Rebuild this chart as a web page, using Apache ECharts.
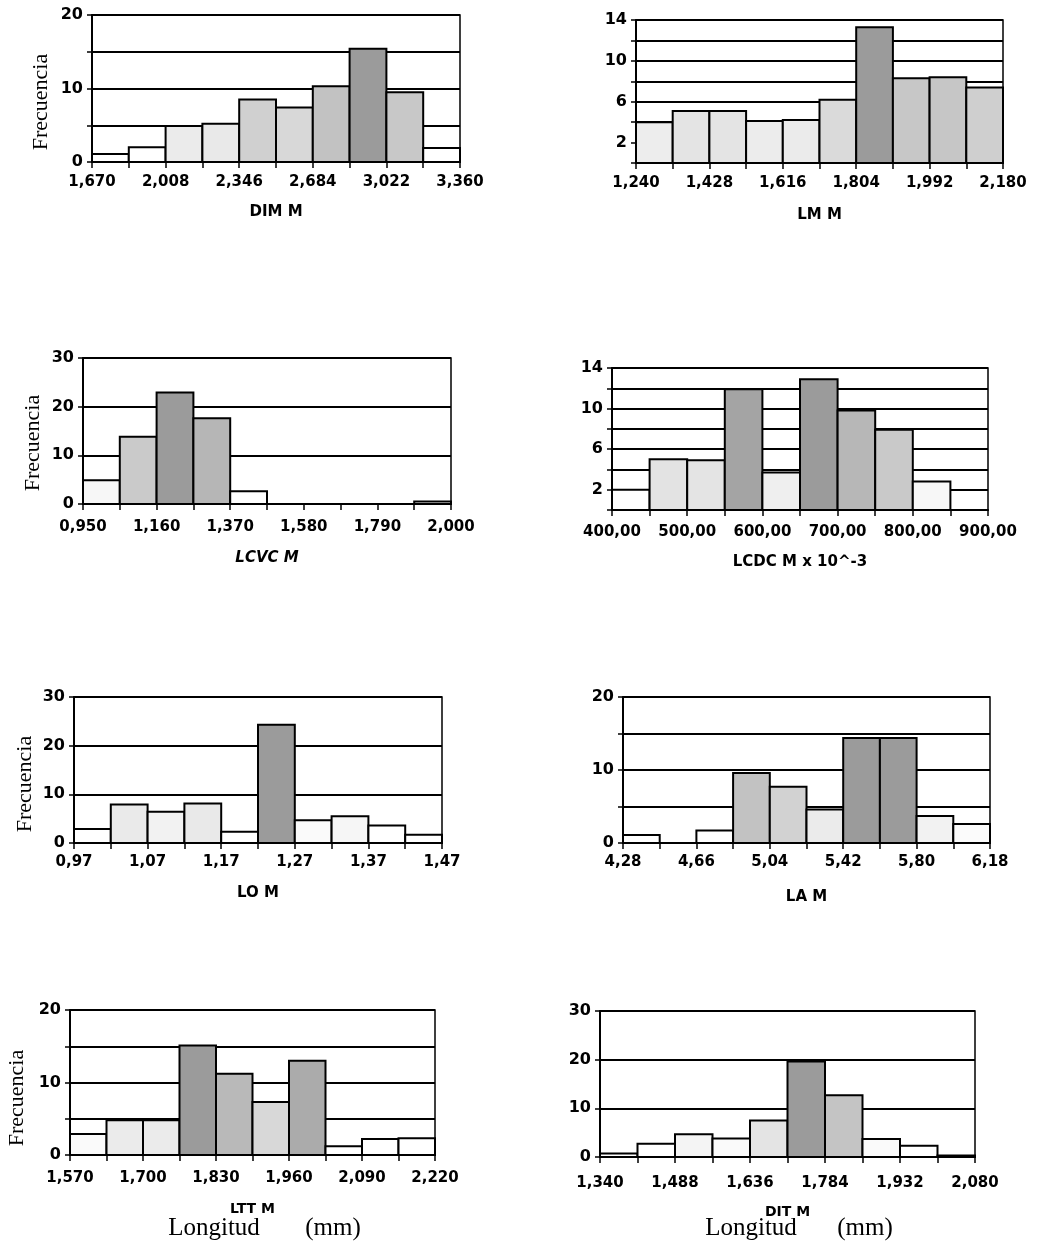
<!DOCTYPE html>
<html>
<head>
<meta charset="utf-8">
<script src="https://cdn.jsdelivr.net/npm/echarts@6/dist/echarts.min.js"></script>
<style>
html,body{margin:0;padding:0;background:#fff;}
#c{width:1043px;height:1247px;}
</style>
</head>
<body>
<div id="c"></div>
<script>
// ---- data (frequency per bin, 10 bins per histogram) ----
const dimVals  = [1.1, 2.0, 4.9, 5.2, 8.5, 7.4, 10.3, 15.4, 9.5, 1.9];
const dimTicks = ['1,670','2,008','2,346','2,684','3,022','3,360'];
const lmVals   = [4.0, 5.1, 5.1, 4.1, 4.2, 6.2, 13.3, 8.3, 8.4, 7.4];
const lmTicks  = ['1,240','1,428','1,616','1,804','1,992','2,180'];
const lcvcVals = [4.9, 13.8, 22.9, 17.6, 2.6, 0, 0, 0, 0, 0.5];
const lcvcTicks= ['0,950','1,160','1,370','1,580','1,790','2,000'];
const lcdcVals = [2.0, 5.0, 4.9, 11.9, 3.7, 12.9, 9.8, 7.9, 2.8, 0];
const lcdcTicks= ['400,00','500,00','600,00','700,00','800,00','900,00'];
const loVals   = [2.9, 7.9, 6.4, 8.1, 2.3, 24.3, 4.7, 5.5, 3.6, 1.7];
const loTicks  = ['0,97','1,07','1,17','1,27','1,37','1,47'];
const laVals   = [1.1, 0, 1.7, 9.6, 7.7, 4.6, 14.4, 14.4, 3.7, 2.6];
const laTicks  = ['4,28','4,66','5,04','5,42','5,80','6,18'];
const lttVals  = [2.9, 4.8, 4.8, 15.1, 11.2, 7.3, 13.0, 1.2, 2.2, 2.3];
const lttTicks = ['1,570','1,700','1,830','1,960','2,090','2,220'];
const ditVals  = [0.7, 2.7, 4.7, 3.8, 7.5, 19.6, 12.7, 3.7, 2.3, 0.3];
const ditTicks = ['1,340','1,488','1,636','1,784','1,932','2,080'];

const names = ['DIM M','LM M','LCVC M','LCDC M x 10^-3','LO M','LA M','LTT M','DIT M'];
const yLabel = 'Frecuencia';
const bottomLabel = ['Longitud', '(mm)'];

// ---- panel layout ----
const panels = [
  {vals: dimVals,  ticks: dimTicks,  ymax: 20, yint: 5, ylab: v => v % 10 === 0, box: [92, 15, 368, 147],  lm: 13, ng: 43},
  {vals: lmVals,   ticks: lmTicks,   ymax: 14, yint: 2, ylab: v => v % 4 === 2,  box: [636, 20, 367, 143], lm: 13, ng: 45},
  {vals: lcvcVals, ticks: lcvcTicks, ymax: 30, yint: 10, ylab: v => true,       box: [83, 358, 368, 146], lm: 16, ng: 47, italic: true},
  {vals: lcdcVals, ticks: lcdcTicks, ymax: 14, yint: 2, ylab: v => v % 4 === 2,  box: [612, 368, 376, 142], lm: 15, ng: 45},
  {vals: loVals,   ticks: loTicks,   ymax: 30, yint: 10, ylab: v => true,       box: [74, 697, 368, 146], lm: 12, ng: 43},
  {vals: laVals,   ticks: laTicks,   ymax: 20, yint: 5, ylab: v => v % 10 === 0, box: [623, 697, 367, 146], lm: 12, ng: 47},
  {vals: lttVals,  ticks: lttTicks,  ymax: 20, yint: 5, ylab: v => v % 10 === 0, box: [70, 1010, 365, 145], lm: 16, ng: 47, small: true},
  {vals: ditVals,  ticks: ditTicks,  ymax: 30, yint: 10, ylab: v => true,       box: [600, 1011, 375, 146], lm: 19, ng: 48, small: true}
];

function shade(v, maxV) {
  const t = Math.max(0, (v / maxV - 0.15) / 0.85);
  const L = Math.round(255 - 100 * t);
  return 'rgb(' + L + ',' + L + ',' + L + ')';
}

const grid = [], xAxis = [], yAxis = [], series = [];
panels.forEach((p, k) => {
  const maxV = Math.max.apply(null, p.vals);
  grid.push({left: p.box[0], top: p.box[1], width: p.box[2], height: p.box[3],
    containLabel: false, outerBoundsMode: 'none',
    show: true, borderColor: '#000', borderWidth: 1.5, backgroundColor: 'transparent'});
  xAxis.push({
    gridIndex: k, type: 'value', min: 0, max: 10, interval: 1,
    name: names[k], nameLocation: 'middle', nameGap: p.ng,
    nameTextStyle: {fontFamily: 'DejaVu Sans', fontWeight: 'bold', fontSize: p.small ? 14 : 15,
      fontStyle: p.italic ? 'italic' : 'normal', color: '#000'},
    axisLine: {show: true, lineStyle: {color: '#000', width: 2}},
    axisTick: {show: true, length: 6, lineStyle: {color: '#000', width: 1.5}},
    axisLabel: {show: true, margin: p.lm, color: '#000', fontFamily: 'DejaVu Sans', fontWeight: 'bold', fontSize: 15,
      formatter: v => (Math.abs(v - Math.round(v)) < 1e-6 && Math.round(v) % 2 === 0) ? p.ticks[Math.round(v) / 2] : ''},
    splitLine: {show: false}
  });
  yAxis.push({
    gridIndex: k, type: 'value', min: 0, max: p.ymax, interval: p.yint,
    axisLine: {show: true, lineStyle: {color: '#000', width: 2}},
    axisTick: {show: true, length: 5, lineStyle: {color: '#000', width: 1.5}},
    axisLabel: {show: true, margin: 9, color: '#000', fontFamily: 'DejaVu Sans', fontWeight: 'bold', fontSize: 16,
      formatter: v => p.ylab(Math.round(v)) ? String(Math.round(v)) : ''},
    splitLine: {show: true, lineStyle: {color: '#000', width: 1.8}}
  });
  series.push({
    type: 'custom', xAxisIndex: k, yAxisIndex: k,
    data: p.vals.map((v, i) => [i, v]),
    renderItem: (params, api) => {
      const i = api.value(0), v = api.value(1);
      if (!v) return null;
      const a = api.coord([i, 0]), b = api.coord([i + 1, v]);
      return {type: 'rect',
        shape: {x: a[0], y: b[1], width: b[0] - a[0], height: a[1] - b[1]},
        style: {fill: shade(v, maxV), stroke: '#000', lineWidth: 2}};
    },
    z: 3
  });
});

const serif = 'Liberation Serif, DejaVu Serif, serif';
const graphic = [
  {pos: [41, 102]}, {pos: [33, 443]}, {pos: [25, 784]}, {pos: [17, 1098]}
].map(o => ({type: 'text', x: o.pos[0], y: o.pos[1], rotation: Math.PI / 2,
  style: {text: yLabel, fontFamily: serif, fontSize: 22, fill: '#000', align: 'center', verticalAlign: 'middle'}}));
[[214, 333, 1228], [751, 865, 1228]].forEach(q => {
  graphic.push({type: 'text', x: q[0], y: q[2], style: {text: bottomLabel[0], fontFamily: serif, fontSize: 25, fill: '#000', align: 'center', verticalAlign: 'middle'}});
  graphic.push({type: 'text', x: q[1], y: q[2], style: {text: bottomLabel[1], fontFamily: serif, fontSize: 25, fill: '#000', align: 'center', verticalAlign: 'middle'}});
});

const chart = echarts.init(document.getElementById('c'), null, {renderer: 'canvas'});
chart.setOption({animation: false, backgroundColor: '#fff', grid, xAxis, yAxis, series, graphic});
</script>
</body>
</html>
